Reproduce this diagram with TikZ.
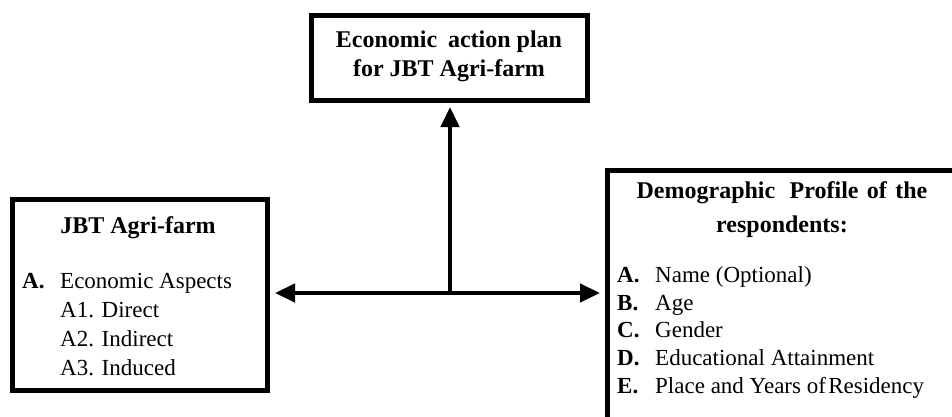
\documentclass[tikz,border=0pt]{standalone}
\usepackage{fontspec}
\setmainfont{Liberation Serif}
\usetikzlibrary{arrows.meta}
\begin{document}
\begin{tikzpicture}[x=1pt,y=-1pt,
  box/.style={draw=black, line width=5pt, fill=white, inner sep=0pt},
  txt/.style={inner sep=0pt, anchor=base west, font=\fontsize{23}{29}\selectfont},
  ttl/.style={inner sep=0pt, anchor=base, font=\fontsize{24}{30}\selectfont\bfseries},
  conn/.style={line width=4.5pt, -{Triangle[length=20pt,width=18pt]}},
  dconn/.style={line width=4.5pt, {Triangle[length=20pt,width=18pt]}-{Triangle[length=20pt,width=18pt]}}]
\useasboundingbox (0,0) rectangle (952,417);
\clip (0,0) rectangle (952,417);
\fill[white] (0,0) rectangle (952,417);
% boxes
\node[box, minimum width=276.5pt, minimum height=84.5pt] (T) at (449.25,58.25) {};
\node[box, minimum width=255pt, minimum height=191pt] (L) at (140,295) {};
\node[box, minimum width=370pt, minimum height=280pt] (R) at (792.5,310.5) {};
% top box text
\node[ttl] (t1) at (449,48) {Economic\hspace{0.45em}action plan};
\node[ttl] (t2) at (449,77) {for JBT Agri-farm};
% left box text
\node[ttl] (l0) at (138,233) {JBT Agri-farm};
\node[txt] (la) at (22,288) {\textbf{A.}};
\node[txt] (l1) at (60,288) {Economic Aspects};
\node[txt] (l2) at (60,317) {A1. Direct};
\node[txt] (l3) at (60,346) {A2. Indirect};
\node[txt] (l4) at (60,375) {A3. Induced};
% right box text
\node[ttl] (r0) at (782,198) {Demographic\hspace{0.6em}Profile\hspace{0.35em}of\hspace{0.35em}the};
\node[ttl] (r1) at (782,232) {respondents:};
\node[txt] (ra) at (617,282) {\textbf{A.}};
\node[txt] (rb) at (617,310) {\textbf{B.}};
\node[txt] (rc) at (617,337) {\textbf{C.}};
\node[txt] (rd) at (617,365) {\textbf{D.}};
\node[txt] (re) at (617,393) {\textbf{E.}};
\node[txt] (r2) at (655,282) {Name (Optional)};
\node[txt] (r3) at (655,310) {Age};
\node[txt] (r4) at (655,337) {Gender};
\node[txt] (r5) at (655,365) {Educational Attainment};
\node[txt] (r6) at (655,393) {Place and Years of\hspace{0.1em}Residency};
% connectors
\coordinate (J) at (450,293);
\draw[conn, shorten >=4pt] (J) -- (J |- T.south);
\draw[dconn, shorten <=5pt, shorten >=5pt] (L.east |- J) -- (R.west |- J);
\end{tikzpicture}
\end{document}
